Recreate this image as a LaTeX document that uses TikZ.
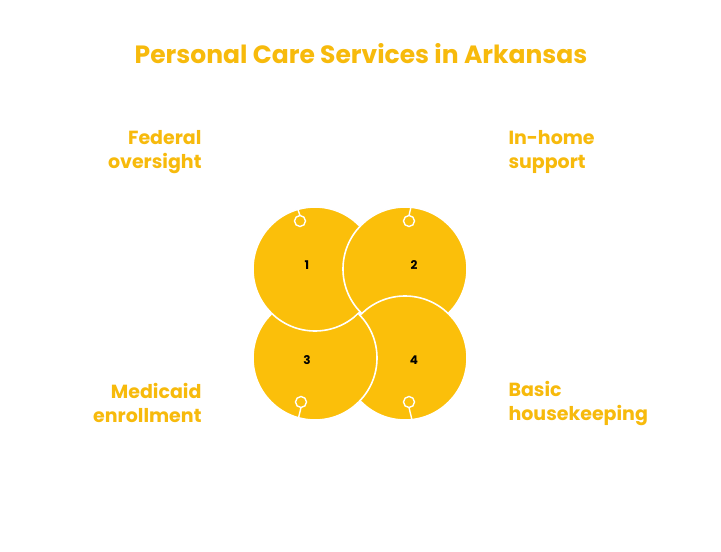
\documentclass[tikz,border=0pt]{standalone}
\usepackage{fontspec}
\setmainfont{Poppins}
\usetikzlibrary{calc}
\definecolor{petal}{HTML}{FBBF0A}
\definecolor{heading}{HTML}{F7BA0C}

\begin{document}
\begin{tikzpicture}[x=1pt, y=-1pt]

        \pgfmathsetmacro{\rad}{62}

        \tikzset{
            petal/.style={fill=petal, draw=white, line width=1.6pt},
            hook/.style={draw=white, line width=1.4pt},
            num/.style={font=\bfseries\fontsize{12}{14}\selectfont, text=black},
            label/.style={font=\bfseries\fontsize{19}{24}\selectfont, text=heading, align=#1}
        }

        % Page frame
        \useasboundingbox[fill=white] (0, 0) rectangle (721, 552);

        % Centres of the four petals
        \coordinate (C1) at (315, 269);
        \coordinate (C2) at (405, 269);
        \coordinate (C3) at (315, 358);
        \coordinate (C4) at (405, 358);

        \draw[petal] (C3) circle (\rad);
        \draw[petal] (C1) circle (\rad);
        \draw[petal] (C2) circle (\rad);
        \draw[petal] (C4) circle (\rad);

        % Petal 3 lies over petal 4 at the bottom
        \begin{scope}
            \clip (C4) circle (\rad+2);
            \clip (300, 314) rectangle (420, 430);
            \draw[petal] (C3) circle (\rad);
        \end{scope}

        % Small rings with their stems
        \draw[hook] (300, 221) circle (5.5);
        \draw[hook] (300, 215.5) -- (297, 207);
        \draw[hook] (409, 221) circle (5.5);
        \draw[hook] (409, 215.5) -- (411, 207);
        \draw[hook] (301, 402) circle (5.5);
        \draw[hook] (301, 407.5) -- (298, 420);
        \draw[hook] (409, 402) circle (5.5);
        \draw[hook] (409, 407.5) -- (412, 420);

        \node[num] (n1) at (307, 265) {1};
        \node[num] (n2) at (414, 265) {2};
        \node[num] (n3) at (307, 360) {3};
        \node[num] (n4) at (414, 360) {4};

        % Title and side labels
        \node[font=\bfseries\fontsize{25}{30}\selectfont, text=heading]
            (title) at (361, 54) {Personal Care Services in Arkansas};
        \node[label=right, anchor=east] (federal) at (205, 152) {Federal\\oversight};
        \node[label=left, anchor=west] (inhome) at (505, 152) {In-home\\support};
        \node[label=right, anchor=east] (medicaid) at (205, 403) {Medicaid\\enrollment};
        \node[label=left, anchor=west] (basic) at (505, 403) {Basic\\housekeeping};

\end{tikzpicture}
\end{document}
